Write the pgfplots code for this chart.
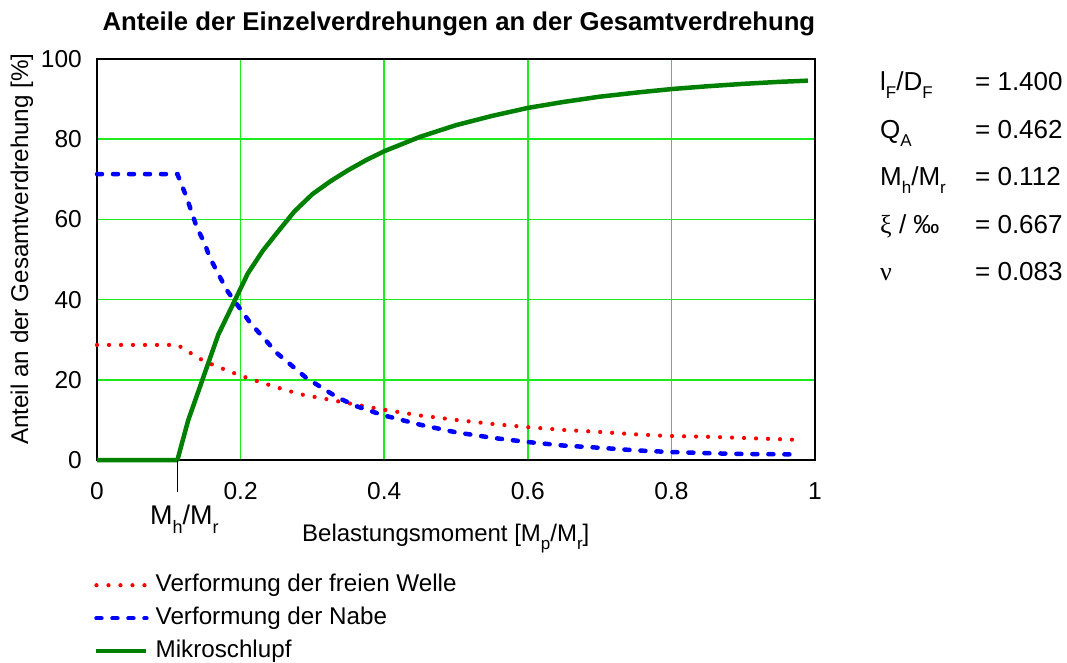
\documentclass[border=0pt]{standalone}
\usepackage{pgfplots}
\pgfplotsset{compat=1.18}
\usepackage{fontspec}
\setmainfont{Liberation Sans}
\newfontfamily\greek{Liberation Serif}
\definecolor{gridgreen}{RGB}{30,235,30}
\definecolor{dgreen}{RGB}{0,128,0}
\newcommand{\sub}[1]{\raisebox{-8pt}{\fontsize{17}{18}\selectfont #1}}
\newcommand{\bsub}[1]{\raisebox{-8.5pt}{\fontsize{18}{19}\selectfont #1}}
\begin{document}
\fontsize{24}{28}\selectfont
\begin{tikzpicture}
\path[use as bounding box] (-97pt,-202pt) rectangle (970pt,460pt);
\begin{axis}[
  at={(0pt,0pt)}, anchor=south west,
  scale only axis, width=718pt, height=401pt,
  xmin=0, xmax=1, ymin=0, ymax=100,
  xtick={0,0.2,0.4,0.6,0.8,1}, xticklabels={0,0.2,0.4,0.6,0.8,1},
  ytick={0,20,40,60,80,100}, yticklabels={0,20,40,60,80,100},
  /pgf/number format/assume math mode=true,
  xmajorgrids=true, ymajorgrids=true,
  grid style={gridgreen, line width=1.5pt},
  major grid style={gridgreen, line width=1.5pt},
  axis line style={black, line width=1.6pt},
  major tick length=0pt,
  tick label style={font=\fontsize{24.5}{28}\selectfont, inner sep=0pt},
  xticklabel style={anchor=north, yshift=-22pt},
  yticklabel style={anchor=east, xshift=-15pt},
  clip=false,
  title={Anteile der Einzelverdrehungen an der Gesamtverdrehung},
  title style={at={(axis description cs:0.504,1.0572)}, anchor=base, font=\bfseries\fontsize{25.7}{30}\selectfont, inner sep=0pt},
  xlabel={Belastungsmoment [M\sub{p}/M\sub{r}]},
  xlabel style={at={(axis description cs:0.2855,-0.204)}, anchor=base west, inner sep=0pt, font=\fontsize{24}{28}\selectfont},
  ylabel={Anteil an der Gesamtverdrehung [\%]},
  ylabel style={at={(axis description cs:-0.1045,0.526)}, anchor=center, inner sep=0pt, font=\fontsize{24.2}{28}\selectfont},
  legend style={at={(axis description cs:0,0)}, anchor=north west, xshift=-3pt, yshift=-111pt,
    draw=none, fill=none, inner sep=0pt, row sep=5pt, column sep=4pt,
    font=\fontsize{24.2}{28}\selectfont,
    nodes={inner sep=3pt, text height=17pt, text depth=5pt}},
  legend cell align=left,
  legend image code/.code={\draw[#1] (0pt,0pt) -- (50pt,0pt);},
]
\addplot[red, line width=4.2pt, line cap=round, dash pattern=on 0pt off 12pt] coordinates {
(0,28.7) (0.112,28.7) (0.125,27.3) (0.137,25.9) (0.15,24.6) (0.169,23.2)
(0.199,21.1) (0.231,19.2) (0.26,17.6) (0.283,16.4) (0.334,14.7) (0.394,12.7)
(0.45,11.1) (0.5,10.0) (0.55,9.0) (0.599,8.2) (0.65,7.5) (0.7,7.0) (0.75,6.4)
(0.794,6.0) (0.85,5.8) (0.9,5.5) (0.98,5.0)};
\addlegendentry{Verformung der freien Welle}
\addplot[blue, line width=4.5pt, line cap=round, dash pattern=on 5pt off 11pt] coordinates {
(0,71.3) (0.112,71.3) (0.125,65.4) (0.139,58) (0.150,54) (0.157,50.5)
(0.181,42.3) (0.213,34.3) (0.251,26.6) (0.292,20.4) (0.334,15.7) (0.36,13.5)
(0.398,11.2) (0.45,8.8) (0.5,6.9) (0.552,5.5) (0.599,4.5) (0.65,3.6) (0.705,3.0)
(0.75,2.4) (0.798,2.0) (0.85,1.7) (0.9,1.5) (0.975,1.4)};
\addlegendentry{Verformung der Nabe}
\addplot[dgreen, line width=4.5pt, line join=round] coordinates {
(0,0) (0.112,0) (0.127,9.9) (0.148,20.6) (0.169,31.3) (0.192,39.8) (0.21,46.5)
(0.231,52.2) (0.25,56.5) (0.275,62) (0.3,66.3) (0.325,69.5) (0.35,72.3)
(0.375,74.8) (0.4,77) (0.45,80.6) (0.5,83.5) (0.55,85.8) (0.6,87.8) (0.65,89.3)
(0.7,90.6) (0.75,91.6) (0.8,92.5) (0.85,93.2) (0.9,93.8) (0.95,94.3) (0.99,94.6)};
\addlegendentry{Mikroschlupf}
\draw[black, line width=1.6pt] (axis cs:0.112,0) -- ++(0pt,-32pt);
\node[anchor=base west, inner sep=0pt, font=\fontsize{27}{30}\selectfont] at (axis description cs:0.0738,-0.1617) {M\bsub{h}/M\bsub{r}};
% parameter block
\begin{scope}[every node/.style={anchor=base west, inner sep=0pt, font=\fontsize{26}{30}\selectfont}]
\node at (axis description cs:1.0905,0.9204) {l\sub{F}/D\sub{F}};
\node at (axis description cs:1.2228,0.9204) {= 1.400};
\node at (axis description cs:1.0905,0.8022) {Q\sub{A}};
\node at (axis description cs:1.2228,0.8022) {= 0.462};
\node at (axis description cs:1.0905,0.6841) {M\sub{h}/M\sub{r}};
\node at (axis description cs:1.2228,0.6841) {= 0.112};
\node at (axis description cs:1.0905,0.5659) {{\greek ξ} / ‰};
\node at (axis description cs:1.2228,0.5659) {= 0.667};
\node at (axis description cs:1.0905,0.4478) {{\greek ν}};
\node at (axis description cs:1.2228,0.4478) {= 0.083};
\end{scope}
\end{axis}
\end{tikzpicture}
\end{document}
